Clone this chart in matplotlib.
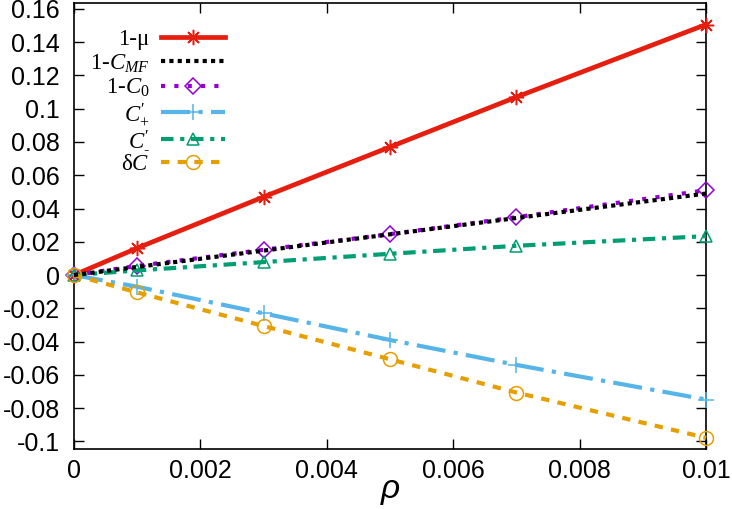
import matplotlib
matplotlib.use("Agg")
import matplotlib.pyplot as plt
from matplotlib.ticker import FuncFormatter, MultipleLocator

plt.rcParams['font.family'] = ['Liberation Sans', 'DejaVu Sans']
plt.rcParams['mathtext.fontset'] = 'custom'
plt.rcParams['mathtext.rm'] = 'Liberation Serif'
plt.rcParams['mathtext.it'] = 'Liberation Serif:italic'

# data
rho = [0.0, 0.001, 0.003, 0.005, 0.007, 0.01]
one_mu = [0.0, 0.0162, 0.047, 0.077, 0.107, 0.1506]
one_cmf = [0.0, 0.0049, 0.0147, 0.0245, 0.0343, 0.049]
one_c0 = [0.0, 0.0055, 0.0152, 0.0246, 0.0348, 0.051]
c_plus = [0.0, -0.007, -0.023, -0.039, -0.054, -0.0748]
c_minus = [0.0, 0.0028, 0.0078, 0.0128, 0.0176, 0.0234]
delta_c = [0.0, -0.0104, -0.0306, -0.0506, -0.0706, -0.0978]


def fmt(v, pos):
    v = round(v, 6)
    if v == 0:
        return '0'
    return '%g' % v


fig = plt.figure(figsize=(7.32, 5.09), dpi=100)
ax = fig.add_axes([0.101, 0.118, 0.8635, 0.876])

ax.plot(rho, one_mu, color='#e51e10', lw=3.4, marker=(8, 2, 0), ms=11,
        mew=1.1, label='1-μ', clip_on=False, zorder=3)
ax.plot(rho, one_cmf, color='black', lw=3, dashes=(1, 1), label='1-$C_{MF}$',
        clip_on=False, zorder=4)
ax.plot(rho, one_c0, color='#9400d3', lw=3, dashes=(1, 2.2), marker='D', ms=8,
        mfc='none', mew=1.1, label='1-$C_0$', clip_on=False, zorder=3)
ax.plot(rho, c_plus, color='#56b4e9', lw=3, dashes=(7, 2, 1, 2), marker='+', ms=12,
        mew=1.1, label=r"$C^{\prime}_{+}$", clip_on=False, zorder=3)
ax.plot(rho, c_minus, color='#009e73', lw=3, dashes=(3, 1.6, 1, 1.6), marker='^', ms=9,
        mfc='none', mew=1.1, label=r"$C^{\prime}_{\text{-}}$", clip_on=False, zorder=3)
ax.plot(rho, delta_c, color='#e69f00', lw=3, dashes=(2, 2), marker='o', ms=10,
        mfc='none', mew=1.1, label='δ$C$', clip_on=False, zorder=3)

ax.set_xlim(0, 0.01)
ax.set_ylim(-0.1045, 0.1635)
ax.xaxis.set_major_locator(MultipleLocator(0.002))
ax.yaxis.set_major_locator(MultipleLocator(0.02))
ax.xaxis.set_major_formatter(FuncFormatter(fmt))
ax.yaxis.set_major_formatter(FuncFormatter(fmt))
ax.tick_params(direction='in', length=7, width=1, top=True, right=True,
               labelsize=18, colors='black')
ax.tick_params(axis='y', pad=10)
ax.tick_params(axis='x', pad=7)
for s in ax.spines.values():
    s.set_linewidth(1.2)

ax.set_xlabel('ρ', fontsize=24, style='italic', labelpad=-6)

leg = ax.legend(loc='upper left', bbox_to_anchor=(0.0, 0.978), frameon=False,
                markerfirst=False, handlelength=2.8, handletextpad=0.5,
                labelspacing=0.1, borderaxespad=0.3,
                prop={'family': 'Liberation Serif', 'size': 16.5})
for t in leg.get_texts():
    t.set_ha('right')
leg._legend_box.align = 'right'

fig.savefig('out.png', dpi=100)
